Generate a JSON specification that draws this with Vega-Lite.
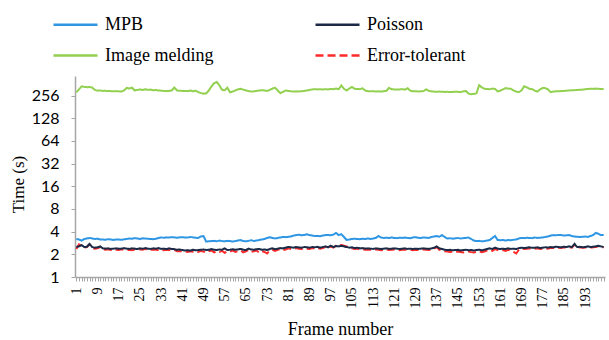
{
  "$schema": "https://vega.github.io/schema/vega-lite/v6.json",
  "width": 530,
  "height": 201,
  "autosize": {"type": "none"},
  "padding": {"left": 75, "top": 76, "right": 4, "bottom": 63},
  "background": "white",
  "config": {"view": {"stroke": null}},
  "data": {"values": [
    {"f":1,"MPB":3.2,"Poisson":2.5,"Image melding":283,"Error-tolerant":2.35},
    {"f":2,"MPB":3.15,"Poisson":2.55,"Image melding":310,"Error-tolerant":2.72},
    {"f":3,"MPB":3.05,"Poisson":2.65,"Image melding":340,"Error-tolerant":2.6},
    {"f":4,"MPB":3.2,"Poisson":2.5,"Image melding":335,"Error-tolerant":2.45},
    {"f":5,"MPB":3.25,"Poisson":2.52,"Image melding":332,"Error-tolerant":2.5},
    {"f":6,"MPB":3.3,"Poisson":2.75,"Image melding":333,"Error-tolerant":2.72},
    {"f":7,"MPB":3.25,"Poisson":2.5,"Image melding":328,"Error-tolerant":2.42},
    {"f":8,"MPB":3.2,"Poisson":2.45,"Image melding":305,"Error-tolerant":2.38},
    {"f":9,"MPB":3.22,"Poisson":2.48,"Image melding":298,"Error-tolerant":2.4},
    {"f":10,"MPB":3.15,"Poisson":2.55,"Image melding":300,"Error-tolerant":2.5},
    {"f":11,"MPB":3.15,"Poisson":2.4,"Image melding":296,"Error-tolerant":2.32},
    {"f":12,"MPB":3.12,"Poisson":2.38,"Image melding":297,"Error-tolerant":2.3},
    {"f":13,"MPB":3.18,"Poisson":2.4,"Image melding":295,"Error-tolerant":2.33},
    {"f":14,"MPB":3.15,"Poisson":2.36,"Image melding":294,"Error-tolerant":2.28},
    {"f":15,"MPB":3.1,"Poisson":2.38,"Image melding":293,"Error-tolerant":2.32},
    {"f":16,"MPB":3.15,"Poisson":2.4,"Image melding":292,"Error-tolerant":2.3},
    {"f":17,"MPB":3.14,"Poisson":2.37,"Image melding":292,"Error-tolerant":2.28},
    {"f":18,"MPB":3.12,"Poisson":2.38,"Image melding":291,"Error-tolerant":2.34},
    {"f":19,"MPB":3.16,"Poisson":2.42,"Image melding":300,"Error-tolerant":2.3},
    {"f":20,"MPB":3.2,"Poisson":2.38,"Image melding":325,"Error-tolerant":2.28},
    {"f":21,"MPB":3.25,"Poisson":2.36,"Image melding":318,"Error-tolerant":2.3},
    {"f":22,"MPB":3.22,"Poisson":2.4,"Image melding":328,"Error-tolerant":2.26},
    {"f":23,"MPB":3.28,"Poisson":2.38,"Image melding":300,"Error-tolerant":2.32},
    {"f":24,"MPB":3.25,"Poisson":2.35,"Image melding":305,"Error-tolerant":2.28},
    {"f":25,"MPB":3.2,"Poisson":2.4,"Image melding":310,"Error-tolerant":2.33},
    {"f":26,"MPB":3.26,"Poisson":2.37,"Image melding":304,"Error-tolerant":2.3},
    {"f":27,"MPB":3.24,"Poisson":2.42,"Image melding":312,"Error-tolerant":2.36},
    {"f":28,"MPB":3.22,"Poisson":2.38,"Image melding":306,"Error-tolerant":2.28},
    {"f":29,"MPB":3.2,"Poisson":2.36,"Image melding":308,"Error-tolerant":2.3},
    {"f":30,"MPB":3.18,"Poisson":2.4,"Image melding":302,"Error-tolerant":2.32},
    {"f":31,"MPB":3.22,"Poisson":2.38,"Image melding":304,"Error-tolerant":2.3},
    {"f":32,"MPB":3.3,"Poisson":2.42,"Image melding":300,"Error-tolerant":2.28},
    {"f":33,"MPB":3.35,"Poisson":2.36,"Image melding":298,"Error-tolerant":2.32},
    {"f":34,"MPB":3.32,"Poisson":2.38,"Image melding":296,"Error-tolerant":2.26},
    {"f":35,"MPB":3.36,"Poisson":2.35,"Image melding":294,"Error-tolerant":2.3},
    {"f":36,"MPB":3.34,"Poisson":2.4,"Image melding":296,"Error-tolerant":2.28},
    {"f":37,"MPB":3.38,"Poisson":2.36,"Image melding":300,"Error-tolerant":2.25},
    {"f":38,"MPB":3.35,"Poisson":2.34,"Image melding":328,"Error-tolerant":2.3},
    {"f":39,"MPB":3.32,"Poisson":2.3,"Image melding":300,"Error-tolerant":2.2},
    {"f":40,"MPB":3.36,"Poisson":2.32,"Image melding":297,"Error-tolerant":2.22},
    {"f":41,"MPB":3.38,"Poisson":2.28,"Image melding":296,"Error-tolerant":2.18},
    {"f":42,"MPB":3.35,"Poisson":2.25,"Image melding":295,"Error-tolerant":2.2},
    {"f":43,"MPB":3.34,"Poisson":2.27,"Image melding":294,"Error-tolerant":2.15},
    {"f":44,"MPB":3.4,"Poisson":2.24,"Image melding":300,"Error-tolerant":2.2},
    {"f":45,"MPB":3.36,"Poisson":2.3,"Image melding":292,"Error-tolerant":2.17},
    {"f":46,"MPB":3.32,"Poisson":2.26,"Image melding":298,"Error-tolerant":2.2},
    {"f":47,"MPB":3.3,"Poisson":2.28,"Image melding":285,"Error-tolerant":2.15},
    {"f":48,"MPB":3.45,"Poisson":2.3,"Image melding":278,"Error-tolerant":2.22},
    {"f":49,"MPB":3.5,"Poisson":2.32,"Image melding":272,"Error-tolerant":2.18},
    {"f":50,"MPB":2.95,"Poisson":2.28,"Image melding":274,"Error-tolerant":2.1},
    {"f":51,"MPB":2.98,"Poisson":2.3,"Image melding":300,"Error-tolerant":2.2},
    {"f":52,"MPB":3.0,"Poisson":2.35,"Image melding":340,"Error-tolerant":2.25},
    {"f":53,"MPB":3.02,"Poisson":2.3,"Image melding":375,"Error-tolerant":2.12},
    {"f":54,"MPB":2.98,"Poisson":2.28,"Image melding":388,"Error-tolerant":2.2},
    {"f":55,"MPB":3.05,"Poisson":2.32,"Image melding":350,"Error-tolerant":2.15},
    {"f":56,"MPB":3.0,"Poisson":2.3,"Image melding":305,"Error-tolerant":2.22},
    {"f":57,"MPB":2.98,"Poisson":2.4,"Image melding":302,"Error-tolerant":2.1},
    {"f":58,"MPB":3.02,"Poisson":2.28,"Image melding":327,"Error-tolerant":2.2},
    {"f":59,"MPB":3.0,"Poisson":2.3,"Image melding":283,"Error-tolerant":2.18},
    {"f":60,"MPB":2.96,"Poisson":2.34,"Image melding":290,"Error-tolerant":2.25},
    {"f":61,"MPB":3.0,"Poisson":2.3,"Image melding":300,"Error-tolerant":2.15},
    {"f":62,"MPB":3.05,"Poisson":2.32,"Image melding":310,"Error-tolerant":2.2},
    {"f":63,"MPB":3.1,"Poisson":2.36,"Image melding":316,"Error-tolerant":2.25},
    {"f":64,"MPB":3.0,"Poisson":2.3,"Image melding":308,"Error-tolerant":2.12},
    {"f":65,"MPB":2.98,"Poisson":2.28,"Image melding":300,"Error-tolerant":2.2},
    {"f":66,"MPB":3.02,"Poisson":2.38,"Image melding":295,"Error-tolerant":2.28},
    {"f":67,"MPB":3.08,"Poisson":2.32,"Image melding":290,"Error-tolerant":2.15},
    {"f":68,"MPB":3.0,"Poisson":2.3,"Image melding":292,"Error-tolerant":2.2},
    {"f":69,"MPB":3.05,"Poisson":2.34,"Image melding":296,"Error-tolerant":2.25},
    {"f":70,"MPB":3.1,"Poisson":2.36,"Image melding":300,"Error-tolerant":2.1},
    {"f":71,"MPB":3.15,"Poisson":2.3,"Image melding":302,"Error-tolerant":2.2},
    {"f":72,"MPB":3.2,"Poisson":2.32,"Image melding":300,"Error-tolerant":2.15},
    {"f":73,"MPB":3.3,"Poisson":2.28,"Image melding":296,"Error-tolerant":2.05},
    {"f":74,"MPB":3.38,"Poisson":2.35,"Image melding":305,"Error-tolerant":2.25},
    {"f":75,"MPB":3.3,"Poisson":2.4,"Image melding":318,"Error-tolerant":2.3},
    {"f":76,"MPB":3.25,"Poisson":2.34,"Image melding":327,"Error-tolerant":2.22},
    {"f":77,"MPB":3.3,"Poisson":2.38,"Image melding":300,"Error-tolerant":2.3},
    {"f":78,"MPB":3.35,"Poisson":2.42,"Image melding":276,"Error-tolerant":2.35},
    {"f":79,"MPB":3.4,"Poisson":2.4,"Image melding":288,"Error-tolerant":2.28},
    {"f":80,"MPB":3.38,"Poisson":2.45,"Image melding":300,"Error-tolerant":2.32},
    {"f":81,"MPB":3.42,"Poisson":2.5,"Image melding":296,"Error-tolerant":2.4},
    {"f":82,"MPB":3.45,"Poisson":2.48,"Image melding":292,"Error-tolerant":2.36},
    {"f":83,"MPB":3.55,"Poisson":2.45,"Image melding":290,"Error-tolerant":2.35},
    {"f":84,"MPB":3.6,"Poisson":2.5,"Image melding":292,"Error-tolerant":2.42},
    {"f":85,"MPB":3.65,"Poisson":2.47,"Image melding":291,"Error-tolerant":2.38},
    {"f":86,"MPB":3.58,"Poisson":2.45,"Image melding":293,"Error-tolerant":2.35},
    {"f":87,"MPB":3.62,"Poisson":2.5,"Image melding":296,"Error-tolerant":2.4},
    {"f":88,"MPB":3.7,"Poisson":2.48,"Image melding":300,"Error-tolerant":2.38},
    {"f":89,"MPB":3.6,"Poisson":2.45,"Image melding":305,"Error-tolerant":2.35},
    {"f":90,"MPB":3.55,"Poisson":2.5,"Image melding":310,"Error-tolerant":2.42},
    {"f":91,"MPB":3.5,"Poisson":2.48,"Image melding":312,"Error-tolerant":2.4},
    {"f":92,"MPB":3.52,"Poisson":2.52,"Image melding":310,"Error-tolerant":2.45},
    {"f":93,"MPB":3.48,"Poisson":2.45,"Image melding":311,"Error-tolerant":2.38},
    {"f":94,"MPB":3.55,"Poisson":2.5,"Image melding":309,"Error-tolerant":2.42},
    {"f":95,"MPB":3.6,"Poisson":2.55,"Image melding":312,"Error-tolerant":2.5},
    {"f":96,"MPB":3.62,"Poisson":2.48,"Image melding":310,"Error-tolerant":2.4},
    {"f":97,"MPB":3.58,"Poisson":2.6,"Image melding":314,"Error-tolerant":2.55},
    {"f":98,"MPB":3.65,"Poisson":2.5,"Image melding":312,"Error-tolerant":2.45},
    {"f":99,"MPB":3.85,"Poisson":2.58,"Image melding":318,"Error-tolerant":2.6},
    {"f":100,"MPB":3.6,"Poisson":2.55,"Image melding":312,"Error-tolerant":2.62},
    {"f":101,"MPB":3.7,"Poisson":2.6,"Image melding":350,"Error-tolerant":2.65},
    {"f":102,"MPB":3.4,"Poisson":2.55,"Image melding":315,"Error-tolerant":2.6},
    {"f":103,"MPB":3.1,"Poisson":2.5,"Image melding":300,"Error-tolerant":2.55},
    {"f":104,"MPB":3.15,"Poisson":2.45,"Image melding":318,"Error-tolerant":2.45},
    {"f":105,"MPB":3.2,"Poisson":2.48,"Image melding":335,"Error-tolerant":2.4},
    {"f":106,"MPB":3.22,"Poisson":2.42,"Image melding":316,"Error-tolerant":2.35},
    {"f":107,"MPB":3.2,"Poisson":2.45,"Image melding":314,"Error-tolerant":2.38},
    {"f":108,"MPB":3.18,"Poisson":2.4,"Image melding":312,"Error-tolerant":2.32},
    {"f":109,"MPB":3.22,"Poisson":2.42,"Image melding":320,"Error-tolerant":2.35},
    {"f":110,"MPB":3.2,"Poisson":2.38,"Image melding":300,"Error-tolerant":2.3},
    {"f":111,"MPB":3.25,"Poisson":2.4,"Image melding":294,"Error-tolerant":2.32},
    {"f":112,"MPB":3.2,"Poisson":2.38,"Image melding":292,"Error-tolerant":2.3},
    {"f":113,"MPB":3.24,"Poisson":2.36,"Image melding":293,"Error-tolerant":2.28},
    {"f":114,"MPB":3.3,"Poisson":2.4,"Image melding":291,"Error-tolerant":2.32},
    {"f":115,"MPB":3.5,"Poisson":2.38,"Image melding":292,"Error-tolerant":2.3},
    {"f":116,"MPB":3.35,"Poisson":2.35,"Image melding":290,"Error-tolerant":2.27},
    {"f":117,"MPB":3.3,"Poisson":2.38,"Image melding":294,"Error-tolerant":2.3},
    {"f":118,"MPB":3.32,"Poisson":2.4,"Image melding":296,"Error-tolerant":2.32},
    {"f":119,"MPB":3.3,"Poisson":2.36,"Image melding":325,"Error-tolerant":2.28},
    {"f":120,"MPB":3.35,"Poisson":2.38,"Image melding":312,"Error-tolerant":2.3},
    {"f":121,"MPB":3.3,"Poisson":2.4,"Image melding":310,"Error-tolerant":2.32},
    {"f":122,"MPB":3.28,"Poisson":2.38,"Image melding":308,"Error-tolerant":2.3},
    {"f":123,"MPB":3.32,"Poisson":2.35,"Image melding":310,"Error-tolerant":2.26},
    {"f":124,"MPB":3.3,"Poisson":2.38,"Image melding":312,"Error-tolerant":2.3},
    {"f":125,"MPB":3.34,"Poisson":2.4,"Image melding":308,"Error-tolerant":2.32},
    {"f":126,"MPB":3.3,"Poisson":2.36,"Image melding":322,"Error-tolerant":2.28},
    {"f":127,"MPB":3.28,"Poisson":2.38,"Image melding":298,"Error-tolerant":2.3},
    {"f":128,"MPB":3.35,"Poisson":2.35,"Image melding":292,"Error-tolerant":2.26},
    {"f":129,"MPB":3.38,"Poisson":2.38,"Image melding":293,"Error-tolerant":2.3},
    {"f":130,"MPB":3.32,"Poisson":2.36,"Image melding":291,"Error-tolerant":2.28},
    {"f":131,"MPB":3.3,"Poisson":2.38,"Image melding":292,"Error-tolerant":2.3},
    {"f":132,"MPB":3.35,"Poisson":2.4,"Image melding":294,"Error-tolerant":2.32},
    {"f":133,"MPB":3.33,"Poisson":2.38,"Image melding":310,"Error-tolerant":2.3},
    {"f":134,"MPB":3.3,"Poisson":2.36,"Image melding":296,"Error-tolerant":2.28},
    {"f":135,"MPB":3.4,"Poisson":2.4,"Image melding":292,"Error-tolerant":2.32},
    {"f":136,"MPB":3.45,"Poisson":2.45,"Image melding":290,"Error-tolerant":2.38},
    {"f":137,"MPB":3.5,"Poisson":2.55,"Image melding":288,"Error-tolerant":2.5},
    {"f":138,"MPB":3.42,"Poisson":2.4,"Image melding":290,"Error-tolerant":2.3},
    {"f":139,"MPB":3.6,"Poisson":2.35,"Image melding":289,"Error-tolerant":2.25},
    {"f":140,"MPB":3.4,"Poisson":2.3,"Image melding":287,"Error-tolerant":2.2},
    {"f":141,"MPB":3.25,"Poisson":2.28,"Image melding":288,"Error-tolerant":2.18},
    {"f":142,"MPB":3.28,"Poisson":2.3,"Image melding":286,"Error-tolerant":2.15},
    {"f":143,"MPB":3.22,"Poisson":2.26,"Image melding":287,"Error-tolerant":2.17},
    {"f":144,"MPB":3.26,"Poisson":2.28,"Image melding":289,"Error-tolerant":2.14},
    {"f":145,"MPB":3.3,"Poisson":2.3,"Image melding":288,"Error-tolerant":2.18},
    {"f":146,"MPB":3.24,"Poisson":2.25,"Image melding":285,"Error-tolerant":2.15},
    {"f":147,"MPB":3.28,"Poisson":2.28,"Image melding":292,"Error-tolerant":2.12},
    {"f":148,"MPB":3.3,"Poisson":2.3,"Image melding":296,"Error-tolerant":2.15},
    {"f":149,"MPB":3.35,"Poisson":2.27,"Image melding":272,"Error-tolerant":2.18},
    {"f":150,"MPB":3.2,"Poisson":2.28,"Image melding":268,"Error-tolerant":2.14},
    {"f":151,"MPB":3.05,"Poisson":2.25,"Image melding":270,"Error-tolerant":2.12},
    {"f":152,"MPB":3.0,"Poisson":2.28,"Image melding":275,"Error-tolerant":2.15},
    {"f":153,"MPB":3.02,"Poisson":2.3,"Image melding":353,"Error-tolerant":2.2},
    {"f":154,"MPB":2.98,"Poisson":2.26,"Image melding":330,"Error-tolerant":2.14},
    {"f":155,"MPB":3.0,"Poisson":2.3,"Image melding":316,"Error-tolerant":2.18},
    {"f":156,"MPB":3.05,"Poisson":2.35,"Image melding":314,"Error-tolerant":2.25},
    {"f":157,"MPB":3.1,"Poisson":2.4,"Image melding":312,"Error-tolerant":2.3},
    {"f":158,"MPB":3.3,"Poisson":2.36,"Image melding":318,"Error-tolerant":2.22},
    {"f":159,"MPB":3.5,"Poisson":2.45,"Image melding":314,"Error-tolerant":2.35},
    {"f":160,"MPB":3.1,"Poisson":2.38,"Image melding":292,"Error-tolerant":2.28},
    {"f":161,"MPB":3.08,"Poisson":2.35,"Image melding":298,"Error-tolerant":2.25},
    {"f":162,"MPB":3.1,"Poisson":2.38,"Image melding":310,"Error-tolerant":2.28},
    {"f":163,"MPB":3.05,"Poisson":2.35,"Image melding":322,"Error-tolerant":2.22},
    {"f":164,"MPB":3.1,"Poisson":2.4,"Image melding":318,"Error-tolerant":2.3},
    {"f":165,"MPB":3.08,"Poisson":2.36,"Image melding":316,"Error-tolerant":2.25},
    {"f":166,"MPB":3.12,"Poisson":2.38,"Image melding":300,"Error-tolerant":2.15},
    {"f":167,"MPB":3.15,"Poisson":2.35,"Image melding":290,"Error-tolerant":2.05},
    {"f":168,"MPB":3.25,"Poisson":2.42,"Image melding":285,"Error-tolerant":2.3},
    {"f":169,"MPB":3.3,"Poisson":2.45,"Image melding":300,"Error-tolerant":2.38},
    {"f":170,"MPB":3.28,"Poisson":2.42,"Image melding":341,"Error-tolerant":2.35},
    {"f":171,"MPB":3.32,"Poisson":2.45,"Image melding":330,"Error-tolerant":2.38},
    {"f":172,"MPB":3.3,"Poisson":2.48,"Image melding":315,"Error-tolerant":2.4},
    {"f":173,"MPB":3.28,"Poisson":2.44,"Image melding":312,"Error-tolerant":2.35},
    {"f":174,"MPB":3.35,"Poisson":2.45,"Image melding":298,"Error-tolerant":2.38},
    {"f":175,"MPB":3.3,"Poisson":2.48,"Image melding":290,"Error-tolerant":2.4},
    {"f":176,"MPB":3.32,"Poisson":2.42,"Image melding":310,"Error-tolerant":2.35},
    {"f":177,"MPB":3.35,"Poisson":2.45,"Image melding":325,"Error-tolerant":2.38},
    {"f":178,"MPB":3.4,"Poisson":2.48,"Image melding":322,"Error-tolerant":2.4},
    {"f":179,"MPB":3.45,"Poisson":2.46,"Image melding":310,"Error-tolerant":2.38},
    {"f":180,"MPB":3.55,"Poisson":2.5,"Image melding":285,"Error-tolerant":2.45},
    {"f":181,"MPB":3.6,"Poisson":2.48,"Image melding":290,"Error-tolerant":2.42},
    {"f":182,"MPB":3.58,"Poisson":2.52,"Image melding":292,"Error-tolerant":2.48},
    {"f":183,"MPB":3.62,"Poisson":2.5,"Image melding":293,"Error-tolerant":2.45},
    {"f":184,"MPB":3.6,"Poisson":2.48,"Image melding":295,"Error-tolerant":2.42},
    {"f":185,"MPB":3.55,"Poisson":2.52,"Image melding":296,"Error-tolerant":2.48},
    {"f":186,"MPB":3.58,"Poisson":2.5,"Image melding":298,"Error-tolerant":2.45},
    {"f":187,"MPB":3.6,"Poisson":2.55,"Image melding":300,"Error-tolerant":2.5},
    {"f":188,"MPB":3.5,"Poisson":2.5,"Image melding":302,"Error-tolerant":2.45},
    {"f":189,"MPB":3.45,"Poisson":2.75,"Image melding":303,"Error-tolerant":2.7},
    {"f":190,"MPB":3.42,"Poisson":2.5,"Image melding":305,"Error-tolerant":2.45},
    {"f":191,"MPB":3.4,"Poisson":2.52,"Image melding":306,"Error-tolerant":2.48},
    {"f":192,"MPB":3.42,"Poisson":2.48,"Image melding":308,"Error-tolerant":2.44},
    {"f":193,"MPB":3.45,"Poisson":2.5,"Image melding":312,"Error-tolerant":2.46},
    {"f":194,"MPB":3.4,"Poisson":2.55,"Image melding":314,"Error-tolerant":2.5},
    {"f":195,"MPB":3.5,"Poisson":2.5,"Image melding":316,"Error-tolerant":2.45},
    {"f":196,"MPB":3.6,"Poisson":2.52,"Image melding":315,"Error-tolerant":2.48},
    {"f":197,"MPB":3.85,"Poisson":2.55,"Image melding":318,"Error-tolerant":2.5},
    {"f":198,"MPB":3.75,"Poisson":2.6,"Image melding":316,"Error-tolerant":2.55},
    {"f":199,"MPB":3.6,"Poisson":2.55,"Image melding":313,"Error-tolerant":2.5},
    {"f":200,"MPB":3.62,"Poisson":2.5,"Image melding":314,"Error-tolerant":2.48}
  ]},
  "transform": [{"fold": ["MPB", "Image melding", "Error-tolerant", "Poisson"], "as": ["series", "time"]}],
  "mark": {"type": "line", "strokeWidth": 2},
  "encoding": {
    "x": {
      "field": "f", "type": "quantitative",
      "scale": {"domain": [0.5, 200.5], "nice": false, "zero": false},
      "axis": {
        "title": "Frame number", "tickCount": 200,
        "labelExpr": "(datum.value - 1) % 8 == 0 ? datum.label : ''",
        "labelOverlap": false, "labelFlush": false, "labelAngle": 270, "labelAlign": "right", "labelBaseline": "middle",
        "labelFont": "Liberation Serif", "labelFontSize": 14, "labelColor": "#000000", "labelPadding": 6,
        "tickSize": 4, "tickColor": "#a6a6a6", "domainColor": "#a6a6a6", "domainWidth": 1.5, "grid": false,
        "titleFont": "Liberation Serif", "titleFontSize": 18, "titleFontWeight": "normal", "titleColor": "#000000", "titlePadding": 12
      }
    },
    "y": {
      "field": "time", "type": "quantitative",
      "scale": {"type": "log", "base": 2, "domain": [1, 467], "nice": false},
      "axis": {
        "title": "Time (s)", "values": [1, 2, 4, 8, 16, 32, 64, 128, 256], "format": "d",
        "labelFont": "Lato", "labelFontSize": 16, "labelColor": "#000000", "labelPadding": 12,
        "tickSize": 4, "tickColor": "#a6a6a6", "domainColor": "#a6a6a6", "domainWidth": 1.5, "grid": false,
        "titleFont": "Liberation Serif", "titleFontSize": 17, "titleFontWeight": "normal", "titleColor": "#000000",
        "titleX": -48, "titleY": 108
      }
    },
    "color": {
      "field": "series", "type": "nominal",
      "scale": {"domain": ["MPB", "Image melding", "Poisson", "Error-tolerant"], "range": ["#2e96e3", "#92d050", "#1b2a47", "#ff2a2a"]},
      "legend": {
        "title": null, "orient": "none", "legendX": -12, "legendY": -64, "columns": 2, "columnPadding": 96, "rowPadding": 9,
        "symbolType": "M-2,0H2", "symbolSize": 484, "symbolStrokeWidth": 2.5,
        "labelFont": "Liberation Serif", "labelFontSize": 18, "labelColor": "#000000", "labelOffset": 17, "labelLimit": 300, "padding": 0
      }
    },
    "strokeDash": {
      "field": "series", "type": "nominal",
      "scale": {"domain": ["MPB", "Image melding", "Poisson", "Error-tolerant"], "range": [[1, 0], [1, 0], [1, 0], [8, 4]]},
      "legend": {
        "title": null, "orient": "none", "legendX": -12, "legendY": -64, "columns": 2, "columnPadding": 96, "rowPadding": 9,
        "symbolType": "M-2,0H2", "symbolSize": 484, "symbolStrokeWidth": 2.5,
        "labelFont": "Liberation Serif", "labelFontSize": 18, "labelColor": "#000000", "labelOffset": 17, "labelLimit": 300, "padding": 0
      }
    }
  }
}
